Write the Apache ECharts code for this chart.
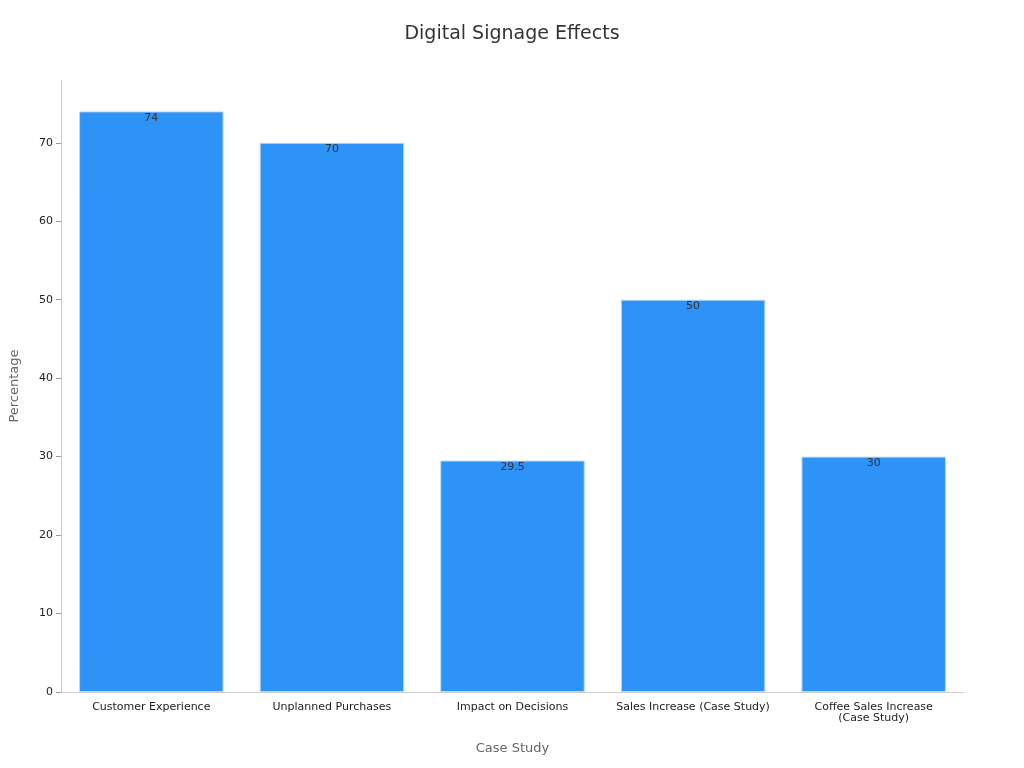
<!DOCTYPE html>
<html><head><meta charset="utf-8">
<script src="https://cdn.jsdelivr.net/npm/echarts@6/dist/echarts.min.js"></script>
<style>html,body{margin:0;padding:0}#c{width:1024px;height:768px}</style>
</head><body><div id="c"></div>
<script>
const categories = ["Customer Experience","Unplanned Purchases","Impact on Decisions","Sales Increase (Case Study)","Coffee Sales Increase\n(Case Study)"];
const values = [74, 70, 29.5, 50, 30];
const chart = echarts.init(document.getElementById('c'));
chart.setOption({
  textStyle:{fontFamily:'DejaVu Sans'},
  title:{text:'Digital Signage Effects',left:'center',top:20,textStyle:{fontSize:19,fontWeight:'normal',color:'#333',fontFamily:'DejaVu Sans'}},
  grid:{left:60,right:60,top:80,bottom:76},
  xAxis:{type:'category',data:categories,name:'Case Study',nameLocation:'middle',nameGap:50,
    nameTextStyle:{fontSize:13,color:'#666'},
    axisLine:{lineStyle:{color:'#ccc'}},axisTick:{show:false},
    axisLabel:{fontSize:11,color:'#222',interval:0,margin:10}},
  yAxis:{type:'value',min:0,max:78,interval:10,name:'Percentage',nameLocation:'middle',nameGap:40,
    nameTextStyle:{fontSize:13,color:'#666'},
    axisLine:{show:true,lineStyle:{color:'#ccc'}},axisTick:{show:true,lineStyle:{color:'#999'}},
    splitLine:{show:false},
    axisLabel:{fontSize:11,color:'#222',showMaxLabel:false}},
  series:[{type:'bar',data:values,barWidth:'80%',
    itemStyle:{color:'#2e93f7',borderColor:'#bcd9f7',borderWidth:1},
    label:{show:true,position:'insideTop',offset:[0,-4],color:'#333',fontSize:11}}]
});
</script></body></html>
